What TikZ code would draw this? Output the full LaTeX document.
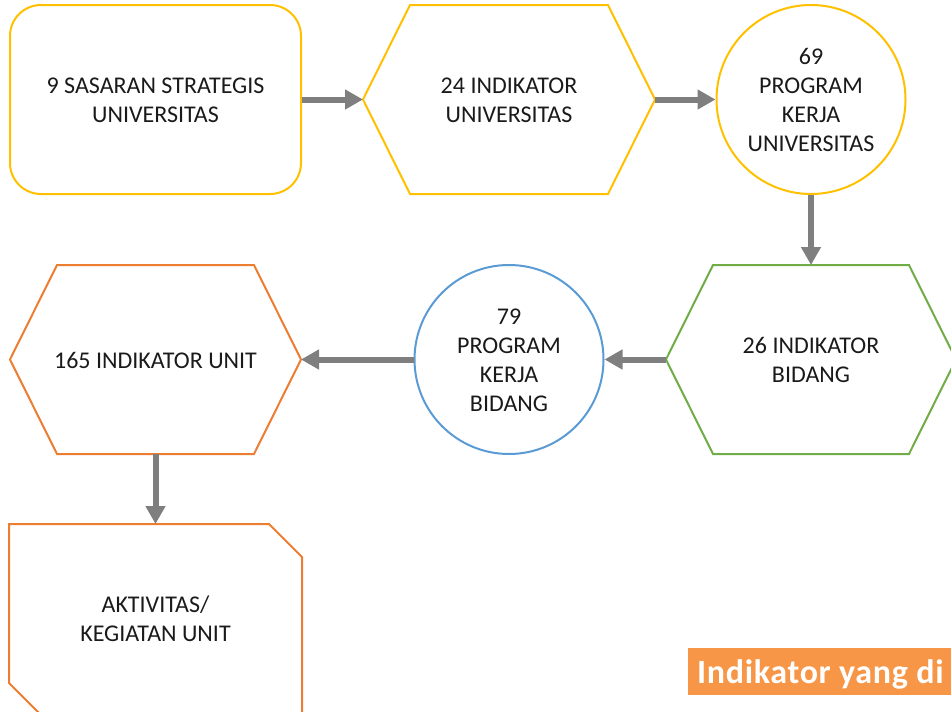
\documentclass[tikz,border=0pt]{standalone}
\usepackage{fontspec}
\setmainfont{Carlito}
\usetikzlibrary{arrows.meta}
\definecolor{cyellow}{HTML}{FFC000}
\definecolor{cgreen}{HTML}{70AD47}
\definecolor{cblue}{HTML}{5B9BD5}
\definecolor{corange}{HTML}{ED7D31}
\definecolor{clabel}{HTML}{F79646}
\definecolor{cgray}{HTML}{7F7F7F}
\definecolor{ctext}{HTML}{1A1A1A}
\begin{document}
\begin{tikzpicture}[x=1pt,y=-1pt,
  lbl/.style={align=center,font=\fontsize{24}{29}\selectfont,text=ctext,inner sep=0pt},
  border/.style={line width=2pt,line join=miter},
  conn/.style={draw=cgray,line width=6pt,-{Triangle[length=18pt,width=19pt]}}]
\useasboundingbox (0,0) rectangle (951,712);
\clip (0,0) rectangle (951,712);

% 1: rounded rectangle
\node[draw=cyellow,line width=2pt,rounded corners=31pt,minimum width=291pt,minimum height=189pt,inner sep=0pt] (s) at (155.5,99.5) {};
\node[lbl] (st) at (155.5,100) {9 SASARAN STRATEGIS\\UNIVERSITAS};

% 2: hexagon, yellow
\draw[border,draw=cyellow] (363,99.5) -- (410,5) -- (608,5) -- (655,99.5) -- (608,194) -- (410,194) -- cycle;
\coordinate (h1w) at (363,99.5);
\coordinate (h1e) at (655,99.5);
\node[lbl] (h1t) at (509,100) {24 INDIKATOR\\UNIVERSITAS};

% 3: circle, yellow
\node[circle,draw=cyellow,line width=2pt,minimum size=189pt,inner sep=0pt] (c1) at (811,99.5) {};
\node[lbl] (c1t) at (811,100) {69\\PROGRAM\\KERJA\\UNIVERSITAS};

% 4: hexagon, green
\draw[border,draw=cgreen] (666,359.5) -- (713,265) -- (909,265) -- (956,359.5) -- (909,454) -- (713,454) -- cycle;
\coordinate (h2n) at (811,265);
\coordinate (h2w) at (666,359.5);
\node[lbl] (h2t) at (811,360) {26 INDIKATOR\\BIDANG};

% 5: circle, blue
\node[circle,draw=cblue,line width=2pt,minimum size=189pt,inner sep=0pt] (c2) at (509,359.5) {};
\node[lbl] (c2t) at (509,360) {79\\PROGRAM\\KERJA\\BIDANG};

% 6: hexagon, orange
\draw[border,draw=corange] (10,359.5) -- (57,265) -- (254,265) -- (301,359.5) -- (254,454) -- (57,454) -- cycle;
\coordinate (h3e) at (301,359.5);
\coordinate (h3s) at (155.5,454);
\node[lbl] (h3t) at (155.5,360) {165 INDIKATOR UNIT};

% 7: snipped box, orange
\draw[border,draw=corange] (9,524) -- (269,524) -- (302,557) -- (302,740) -- (66,740) -- (9,683) -- cycle;
\coordinate (bn) at (155.5,524);
\node[lbl] (bt) at (155.5,619) {AKTIVITAS/\\KEGIATAN UNIT};

% connectors
\draw[conn] (s.east) -- (h1w);
\draw[conn] (h1e) -- (c1.west);
\draw[conn] (c1.south) -- (h2n);
\draw[conn] (h2w) -- (c2.east);
\draw[conn] (c2.west) -- (h3e);
\draw[conn] (h3s) -- (bn);

% label
\fill[clabel] (688,648) rectangle (970,695);
\node[anchor=base west,inner sep=0pt,text=white,font=\fontsize{34}{40}\selectfont\bfseries\addfontfeatures{LetterSpace=2}] (lab) at (697,683.5) {Indikator yang di};
\end{tikzpicture}
\end{document}
